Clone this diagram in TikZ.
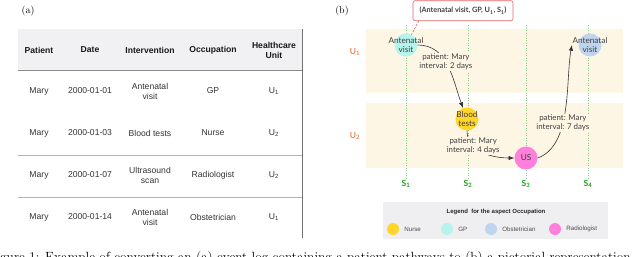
\documentclass[tikz,border=0pt]{standalone}
\usepackage{fontspec}
\newfontfamily\tabfont{Liberation Sans}
\newfontfamily\latofont{Lato}
\usetikzlibrary{arrows.meta,positioning}
\definecolor{headfill}{HTML}{F1F1F3}
\definecolor{bandfill}{HTML}{FEF6E4}
\definecolor{unitred}{HTML}{E0601E}
\definecolor{stepgreen}{HTML}{1E9E1E}
\definecolor{gpcol}{HTML}{B5F4EC}
\definecolor{nursecol}{HTML}{FFD52A}
\definecolor{radiocol}{HTML}{FF80DA}
\definecolor{obstcol}{HTML}{BFD4EE}
\definecolor{legfill}{HTML}{EFEFF2}
\definecolor{tuplered}{HTML}{E06666}

\begin{document}
\begin{tikzpicture}[x=1pt,y=-1pt,>=Latex,
  cell/.style={font=\tabfont\fontsize{8.6}{10}\selectfont,text=black!80,align=center,inner sep=0pt},
  head/.style={font=\tabfont\bfseries\fontsize{8.6}{10}\selectfont,text=black!90,align=center,inner sep=0pt},
  rule/.style={draw=black!30,line width=.6pt},
  unit/.style={font=\latofont\fontsize{8.5}{9}\selectfont,text=unitred},
  stepline/.style={draw=stepgreen!55,dotted,line width=.5pt},
  steplab/.style={font=\latofont\bfseries\fontsize{8.5}{9}\selectfont,text=stepgreen,inner sep=1pt},
  evt/.style={circle,minimum size=23pt,inner sep=0pt},
  evtxt/.style={font=\latofont\fontsize{8.2}{8.8}\selectfont,text=black!75,align=center,inner sep=.5pt},
  lbl/.style={font=\latofont\fontsize{7.9}{9}\selectfont,text=black!75,align=center,fill=bandfill,inner sep=1pt},
  flow/.style={->,line width=.6pt,draw=black!80},
  tuple/.style={draw=tuplered,fill=white,rounded corners=2pt,line width=.6pt,
    minimum width=100pt,minimum height=20pt,inner sep=2pt,
    font=\latofont\bfseries\fontsize{7.3}{8.5}\selectfont,text=black!75},
  dot/.style={circle,minimum size=12pt,inner sep=0pt},
  legtxt/.style={font=\tabfont\fontsize{6.2}{7}\selectfont,text=black!70,inner sep=0pt}]
\useasboundingbox (0,0) rectangle (640,257);
\clip (0,0) rectangle (640,257);

% (a) event log
\node[font=\fontsize{10}{12}\selectfont] (panelA) at (28,11) {(a)};
\fill[headfill] (18,29) rectangle (302,70);
\draw[draw=black!45,line width=.7pt] (18,70) -- (302,70);
\draw[rule] (18,155) -- (302,155);
\draw[rule] (18,197) -- (302,197);
\draw[draw=black!55,line width=.7pt] (302,29) -- (302,238);
\node[head] (hPatient) at (39,50) {Patient};
\node[head] (hDate) at (90,50) {Date};
\node[head] (hInterv) at (150,50) {Intervention};
\node[head] (hOccup) at (213,50) {Occupation};
\node[head] (hUnit) at (274,50) {Healthcare\\Unit};
\node[cell] at (39,91) {Mary};
\node[cell] at (90,91) {2000-01-01};
\node[cell] at (150,91) {Antenatal\\visit};
\node[cell] at (213,91) {GP};
\node[cell] at (274,91) {U\textsubscript{1}};
\node[cell] at (39,133) {Mary};
\node[cell] at (90,133) {2000-01-03};
\node[cell] at (150,133) {Blood tests};
\node[cell] at (213,133) {Nurse};
\node[cell] at (274,133) {U\textsubscript{2}};
\node[cell] at (39,175) {Mary};
\node[cell] at (90,175) {2000-01-07};
\node[cell] at (150,175) {Ultrasound\\scan};
\node[cell] at (213,175) {Radiologist};
\node[cell] at (274,175) {U\textsubscript{2}};
\node[cell] at (39,217) {Mary};
\node[cell] at (90,217) {2000-01-14};
\node[cell] at (150,217) {Antenatal\\visit};
\node[cell] at (213,217) {Obstetrician};
\node[cell] at (274,217) {U\textsubscript{1}};

% (b) pictorial representation
\node[font=\fontsize{10}{12}\selectfont] (panelB) at (342,11) {(b)};
\fill[bandfill] (366,29) rectangle (623,93);
\fill[bandfill] (366,103) rectangle (623,168);
\node[unit] (u1) at (355,52) {U\textsubscript{1}};
\node[unit] (u2) at (355,136) {U\textsubscript{2}};
\foreach \x/\i in {406/1,468/2,526/3,588/4}{
  \node[steplab] (s\i) at (\x,184) {S\textsubscript{\i}};
  \draw[stepline] (\x,25) -- (s\i.north);
}
\node[evt,fill=gpcol,label={[evtxt,name=visitAtxt]center:Antenatal\\visit}] (visitA) at (406,45) {};
\node[evt,fill=nursecol,label={[evtxt,name=bloodtxt]center:Blood\\tests}] (blood) at (467,119) {};
\node[evt,fill=radiocol,label={[evtxt,name=scantxt]center:US}] (scan) at (526,158) {};
\node[evt,fill=obstcol,label={[evtxt,name=visitBtxt]center:Antenatal\\visit}] (visitB) at (590,45) {};
\draw[flow] (visitA.east) to[out=0,in=110]
  node[lbl,pos=.45] {patient: Mary\\interval: 2 days} (blood);
\draw[flow] (blood.south) to[out=-90,in=180]
  node[lbl,pos=.3] {patient: Mary\\interval: 4 days} (scan);
\draw[flow] (scan.east) to[out=20,in=-100,looseness=.8]
  node[lbl,pos=.4] {patient: Mary\\interval: 7 days} (visitBtxt.west);
\node[tuple] (tuple) at (463,10.7) {(Antenatal visit, GP, U\textsubscript{1}, S\textsubscript{1})};
\draw[tuplered,line width=.7pt,dash pattern=on 2pt off 1.5pt] ([xshift=6pt]tuple.south west) -- (visitA);

% legend
\node[fill=legfill,minimum width=225pt,minimum height=37pt,inner sep=0pt] (legend) at (495.5,220.5) {};
\node[font=\tabfont\bfseries\fontsize{6}{7}\selectfont,text=black!85] (legtitle) at (496,212)
  {Legend\ \ for the aspect Occupation};
\node[dot,fill=nursecol] (kNurse) at (393,229) {};
\node[legtxt,right=5pt of kNurse] (tNurse) {Nurse};
\node[dot,fill=gpcol] (kGP) at (447,229) {};
\node[legtxt,right=5pt of kGP] (tGP) {GP};
\node[dot,fill=obstcol] (kObst) at (491,229) {};
\node[legtxt,right=5pt of kObst] (tObst) {Obstetrician};
\node[dot,fill=radiocol] (kRadio) at (555,229) {};
\node[legtxt,right=5pt of kRadio] (tRadio) {Radiologist};

% caption, cut by the frame
\node[anchor=base west,inner sep=0pt,font=\fontsize{13.35}{15}\selectfont] (caption) at (0,261.5)
  {\llap{Fi}gure 1: Example of converting an (a) event log containing a patient pathways to (b) a pictorial representation};
\end{tikzpicture}
\end{document}
